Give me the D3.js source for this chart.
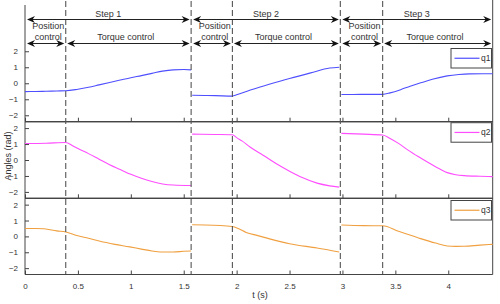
<!DOCTYPE html>
<html><head><meta charset="utf-8">
<script src="https://cdn.jsdelivr.net/npm/d3@7/dist/d3.min.js"></script>
<style>body{margin:0;background:#fff}svg{display:block}text{font-family:"Liberation Sans",Arial,sans-serif;fill:#333}</style>
</head><body><svg id="c" width="500" height="304"></svg>
<script>
// ---- data ----
const xTicks = [0, 0.5, 1, 1.5, 2, 2.5, 3, 3.5, 4];
const xTickLabels = ["0", "0.5", "1", "1.5", "2", "2.5", "3", "3.5", "4"];
const yTicks = [-2, -1, 0, 1, 2];
const stepLabels = ["Step 1", "Step 2", "Step 3"];
const stepStarts = [0, 1.57, 2.98];
const switchTimes = [0.385, 1.96, 3.38];
const tEnd = 4.42;
const seriesNames = ["q1", "q2", "q3"];
const seriesColors = ["#4f4fff", "#ff4dff", "#f0a040"];

const q1 = [
  [[0,-0.52],[0.1,-0.51],[0.2,-0.5],[0.3,-0.48],[0.385,-0.47],[0.5,-0.37],[0.6,-0.25],[0.7,-0.1],[0.8,0.05],[0.9,0.2],[1.0,0.35],[1.1,0.48],[1.2,0.62],[1.3,0.76],[1.4,0.84],[1.5,0.86],[1.57,0.84]],
  [[1.58,-0.75],[1.7,-0.76],[1.8,-0.77],[1.96,-0.8],[2.0,-0.72],[2.13,-0.42],[2.3,-0.08],[2.5,0.3],[2.7,0.65],[2.88,0.95],[2.97,1.0]],
  [[2.99,-0.7],[3.1,-0.7],[3.25,-0.69],[3.38,-0.69],[3.45,-0.6],[3.55,-0.4],[3.64,-0.18],[3.75,0.05],[3.85,0.25],[3.99,0.46],[4.1,0.55],[4.2,0.59],[4.42,0.6]]
];
const q2 = [
  [[0,1.03],[0.2,1.05],[0.385,1.1],[0.45,0.9],[0.5,0.72],[0.6,0.4],[0.7,0.05],[0.8,-0.3],[0.9,-0.6],[1.0,-0.9],[1.1,-1.15],[1.2,-1.35],[1.3,-1.5],[1.4,-1.57],[1.57,-1.6]],
  [[1.58,1.62],[1.8,1.6],[1.96,1.58],[2.0,1.4],[2.05,1.2],[2.13,0.8],[2.25,0.3],[2.38,-0.25],[2.5,-0.7],[2.62,-1.1],[2.76,-1.45],[2.88,-1.62],[2.97,-1.7]],
  [[2.99,1.67],[3.2,1.62],[3.38,1.57],[3.45,1.35],[3.53,1.04],[3.62,0.62],[3.72,0.2],[3.88,-0.42],[3.99,-0.79],[4.07,-0.92],[4.15,-0.98],[4.3,-1.02],[4.42,-1.04]]
];
const q3 = [
  [[0,0.5],[0.1,0.5],[0.18,0.48],[0.3,0.35],[0.385,0.28],[0.49,0.06],[0.6,-0.12],[0.71,-0.31],[0.85,-0.5],[0.99,-0.66],[1.1,-0.8],[1.2,-0.92],[1.28,-0.98],[1.4,-0.98],[1.5,-0.94],[1.57,-0.92]],
  [[1.58,0.73],[1.7,0.72],[1.96,0.62],[2.02,0.48],[2.09,0.25],[2.2,0.05],[2.32,-0.17],[2.5,-0.46],[2.76,-0.73],[2.97,-0.98]],
  [[2.99,0.72],[3.2,0.68],[3.38,0.67],[3.53,0.32],[3.72,-0.1],[3.88,-0.42],[3.99,-0.6],[4.07,-0.63],[4.15,-0.62],[4.3,-0.55],[4.42,-0.5]]
];
const allSeries = [q1, q2, q3];

// ---- layout ----
const svg = d3.select("#c");
const axisColor = "#444";
const x = d3.scaleLinear().domain([0, tEnd]).range([25, 492.7]);
const panels = [
  {y: d3.scaleLinear().domain([-2.4, 4.89]).range([121.7, 5]), top: 5, bottom: 121.7, legendY: 48.5, topBorder: false},
  {y: d3.scaleLinear().domain([-2.4, 2.4]).range([198.3, 121.7]), top: 121.7, bottom: 198.3, legendY: 122.7, topBorder: true},
  {y: d3.scaleLinear().domain([-2.4, 2.4]).range([274.5, 198.3]), top: 198.3, bottom: 274.5, legendY: 200.5, topBorder: true}
];

panels.forEach((p, i) => {
  const g = svg.append("g");
  const ya = g.append("g").attr("transform", `translate(${x(0)},0)`)
    .call(d3.axisLeft(p.y).tickValues(yTicks).tickSizeInner(-4).tickSizeOuter(0).tickPadding(7).tickFormat(d3.format("d")));
  ya.select(".domain").remove();
  const xa = g.append("g").attr("transform", `translate(0,${p.bottom})`)
    .call(d3.axisBottom(x).tickValues(xTicks).tickSizeInner(-4).tickSizeOuter(0).tickPadding(9)
      .tickFormat((d, k) => i === 2 ? xTickLabels[k] : ""));
  xa.select(".domain").remove();
  [ya, xa].forEach(a => {
    a.selectAll("line").attr("stroke", axisColor);
    a.selectAll("text").attr("font-size", 8).attr("fill", "#333").style("font-family", "Liberation Sans, Arial, sans-serif");
  });
  g.append("line").attr("x1", x(0)).attr("x2", x(0)).attr("y1", p.top).attr("y2", p.bottom).attr("stroke", axisColor);
  g.append("line").attr("x1", x(tEnd)).attr("x2", x(tEnd)).attr("y1", i === 0 ? 0 : p.top).attr("y2", p.bottom).attr("stroke", axisColor);
  g.append("line").attr("x1", x(0)).attr("x2", x(tEnd)).attr("y1", p.bottom).attr("y2", p.bottom).attr("stroke", axisColor).attr("stroke-width", 1.2);
  if (p.topBorder) g.append("line").attr("x1", x(0)).attr("x2", x(tEnd)).attr("y1", p.top).attr("y2", p.top).attr("stroke", axisColor).attr("stroke-width", 1.2);

  const line = d3.line().x(d => x(d[0])).y(d => p.y(d[1])).curve(d3.curveMonotoneX);
  allSeries[i].forEach(seg => {
    g.append("path").attr("d", line(seg)).attr("fill", "none").attr("stroke", seriesColors[i]).attr("stroke-width", 1.1);
  });

  const lx = 451, lw = 40.5, lh = 19.5;
  const lg = g.append("g");
  lg.append("rect").attr("x", lx).attr("y", p.legendY).attr("width", lw).attr("height", lh)
    .attr("fill", "#fff").attr("stroke", axisColor).attr("stroke-width", 1);
  lg.append("line").attr("x1", lx + 3.5).attr("x2", lx + 28.5).attr("y1", p.legendY + lh / 2).attr("y2", p.legendY + lh / 2)
    .attr("stroke", seriesColors[i]).attr("stroke-width", 1.2);
  lg.append("text").attr("x", lx + 30).attr("y", p.legendY + lh / 2 + 3).attr("font-size", 8.5).text(seriesNames[i]);
});

const dashT = stepStarts.slice(1).concat(switchTimes);
svg.selectAll(".dash").data(dashT).enter().append("line")
  .attr("x1", d => x(d)).attr("x2", d => x(d)).attr("y1", 1).attr("y2", 274)
  .attr("stroke", "#555").attr("stroke-width", 1.1).attr("stroke-dasharray", "6,3");

function dblArrow(x1, x2, y) {
  const g = svg.append("g");
  g.append("line").attr("x1", x1 + 3).attr("x2", x2 - 3).attr("y1", y).attr("y2", y).attr("stroke", "#222").attr("stroke-width", 1);
  const head = (tx, dir) => `M${tx},${y} L${tx - dir * 8},${y - 3.5} L${tx - dir * 5.5},${y} L${tx - dir * 8},${y + 3.5} Z`;
  g.append("path").attr("d", head(x2, 1)).attr("fill", "#111");
  g.append("path").attr("d", head(x1, -1)).attr("fill", "#111");
}
const stepEnds = stepStarts.slice(1).concat([tEnd]);
stepStarts.forEach((s, k) => {
  const a = x(s) + 2, b = x(stepEnds[k]) - 1.5;
  dblArrow(a, b, 19.5);
  svg.append("text").attr("x", (a + b) / 2).attr("y", 17).attr("text-anchor", "middle").attr("font-size", 9).text(stepLabels[k]);
  const sw = x(switchTimes[k]);
  dblArrow(a, sw - 1.5, 43.5);
  dblArrow(sw + 1.5, b, 43.5);
  const pm = (a + sw) / 2 + 2;
  svg.append("text").attr("x", pm).attr("y", 29).attr("text-anchor", "middle").attr("font-size", 9).text("Position");
  svg.append("text").attr("x", pm).attr("y", 40).attr("text-anchor", "middle").attr("font-size", 9).text("control");
  svg.append("text").attr("x", (sw + b) / 2 - 2).attr("y", 40).attr("text-anchor", "middle").attr("font-size", 9).text("Torque control");
});

svg.append("text").attr("transform", "translate(11,156) rotate(-90)").attr("text-anchor", "middle").attr("font-size", 9).text("Angles (rad)");
svg.append("text").attr("x", 260).attr("y", 298).attr("text-anchor", "middle").attr("font-size", 9).text("t (s)");
</script></body></html>
